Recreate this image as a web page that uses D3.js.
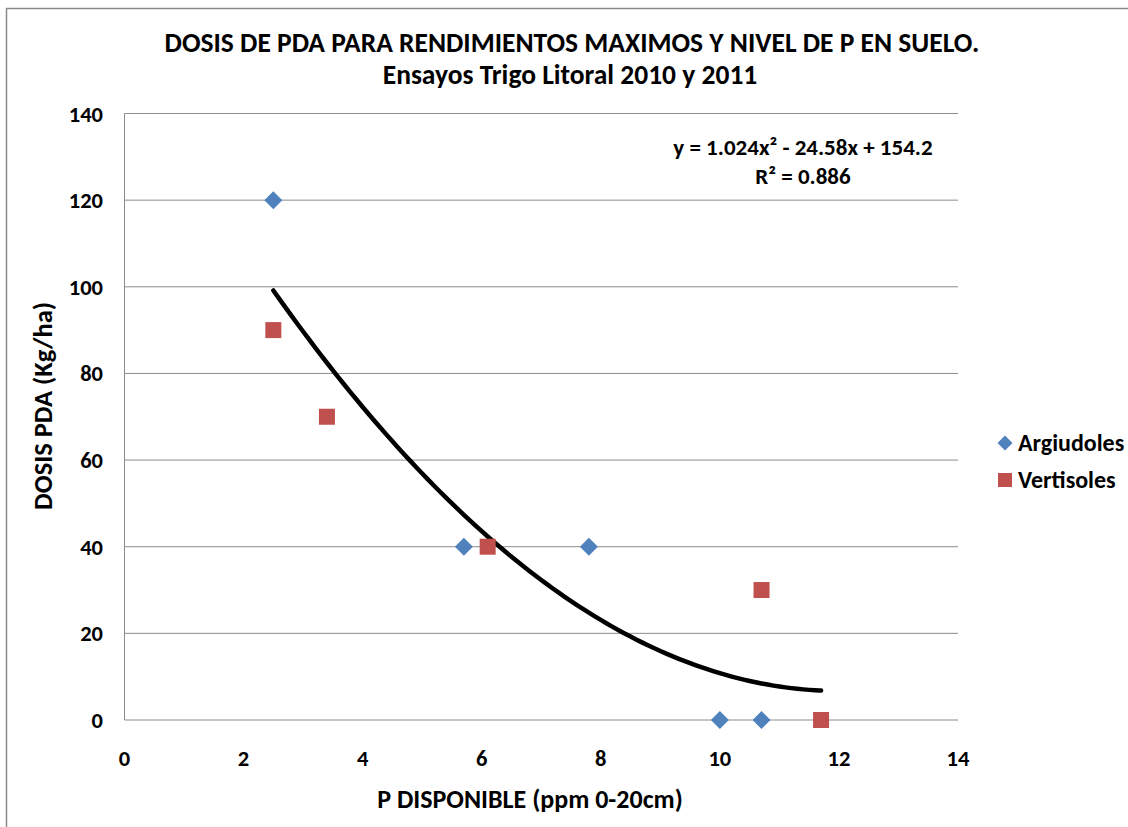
<!DOCTYPE html>
<html>
<head>
<meta charset="utf-8">
<script src="https://cdn.jsdelivr.net/npm/d3@7"></script>
<style>
  body { margin: 0; background: #fff; }
  text { font-family: "Carlito", "Lato", "Liberation Sans", sans-serif; font-weight: bold; fill: #000; }
</style>
</head>
<body>
<script>
// data
var argiX = [2.5, 5.7, 7.8, 10, 10.7];
var argiY = [120, 40, 40, 0, 0];
var vertX = [2.5, 3.4, 6.1, 10.7, 11.7];
var vertY = [90, 70, 40, 30, 0];
var coef = [1.024, -24.58, 154.2]; // y = a x^2 + b x + c
var trendRange = [2.5, 11.7];
var xTicks = [0, 2, 4, 6, 8, 10, 12, 14];
var yTicks = [0, 20, 40, 60, 80, 100, 120, 140];

var width = 1128, height = 827;
var svg = d3.select('body').append('svg')
  .attr('width', width).attr('height', height);

// outer chart border
svg.append('rect')
  .attr('x', 6.5).attr('y', 8.5)
  .attr('width', 1140).attr('height', 840)
  .attr('fill', 'none').attr('stroke', '#8a8a8a').attr('stroke-width', 1.5);

var x = d3.scaleLinear().domain([0, 14]).range([124.5, 958]);
var y = d3.scaleLinear().domain([0, 140]).range([720, 113.5]);

// gridlines
svg.selectAll('.grid').data(yTicks).enter().append('line')
  .attr('x1', x(0)).attr('x2', x(14))
  .attr('y1', d => y(d)).attr('y2', d => y(d))
  .attr('stroke', '#8c8c8c').attr('stroke-width', 1);

svg.append('line')
  .attr('x1', x(0)).attr('x2', x(0))
  .attr('y1', y(0)).attr('y2', y(140))
  .attr('stroke', '#8c8c8c').attr('stroke-width', 1);

// tick labels
svg.selectAll('.ylab').data(yTicks).enter().append('text')
  .attr('x', 103).attr('y', d => y(d) + 8)
  .attr('text-anchor', 'end').attr('font-size', 22.5)
  .text(d => d);

svg.selectAll('.xlab').data(xTicks).enter().append('text')
  .attr('x', d => x(d)).attr('y', 766)
  .attr('text-anchor', 'middle').attr('font-size', 22.5)
  .text(d => d);

// titles
svg.append('text').attr('x', 572).attr('y', 52)
  .attr('text-anchor', 'middle').attr('font-size', 27.5)
  .text('DOSIS DE PDA PARA RENDIMIENTOS MAXIMOS  Y NIVEL DE P EN SUELO.');
svg.append('text').attr('x', 570).attr('y', 84)
  .attr('text-anchor', 'middle').attr('font-size', 27.5)
  .text('Ensayos Trigo Litoral 2010 y 2011');

svg.append('text').attr('x', 530).attr('y', 808)
  .attr('text-anchor', 'middle').attr('font-size', 26)
  .text('P DISPONIBLE (ppm 0-20cm)');
svg.append('text')
  .attr('transform', 'translate(52,406) rotate(-90)')
  .attr('text-anchor', 'middle').attr('font-size', 26.5)
  .text('DOSIS PDA (Kg/ha)');

// trend line
var trendPts = d3.range(trendRange[0], trendRange[1] + 0.001, 0.1).map(function (v) {
  return [v, coef[0] * v * v + coef[1] * v + coef[2]];
});
svg.append('path')
  .datum(trendPts)
  .attr('d', d3.line().x(d => x(d[0])).y(d => y(d[1])).curve(d3.curveMonotoneX))
  .attr('fill', 'none').attr('stroke', '#000').attr('stroke-width', 4.5)
  .attr('stroke-linecap', 'round');

// equation
svg.append('text').attr('x', 803).attr('y', 155)
  .attr('text-anchor', 'middle').attr('font-size', 23)
  .text('y = 1.024x² - 24.58x + 154.2');
svg.append('text').attr('x', 803).attr('y', 184)
  .attr('text-anchor', 'middle').attr('font-size', 23)
  .text('R² = 0.886');

// points
var diamond = 'M0,-9L9,0L0,9L-9,0Z';
svg.selectAll('.argi').data(argiX).enter().append('path')
  .attr('d', diamond)
  .attr('transform', (d, i) => 'translate(' + x(d) + ',' + y(argiY[i]) + ')')
  .attr('fill', '#4f81bd');

svg.selectAll('.vert').data(vertX).enter().append('rect')
  .attr('x', d => x(d) - 8)
  .attr('y', (d, i) => y(vertY[i]) - 8)
  .attr('width', 16).attr('height', 16)
  .attr('fill', '#c0504d');

// legend
svg.append('path').attr('d', 'M0,-7.5L7.5,0L0,7.5L-7.5,0Z')
  .attr('transform', 'translate(1005,443)').attr('fill', '#4f81bd');
svg.append('text').attr('x', 1018).attr('y', 451)
  .attr('font-size', 24).text('Argiudoles');
svg.append('rect').attr('x', 998).attr('y', 473).attr('width', 14).attr('height', 14)
  .attr('fill', '#c0504d');
svg.append('text').attr('x', 1018).attr('y', 488)
  .attr('font-size', 24).text('Vertisoles');
</script>
</body>
</html>
